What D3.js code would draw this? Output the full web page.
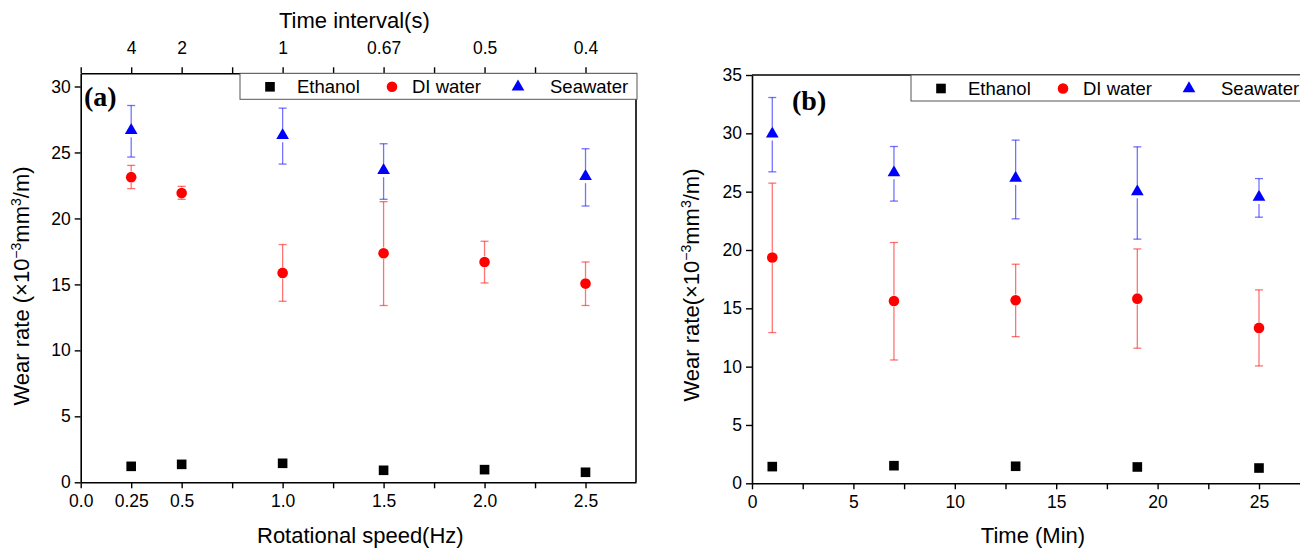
<html>
<head><meta charset="utf-8"></head>
<style>
  html, body { margin: 0; background: #fff; }
  svg { display: block; }
  text { font-family: "Liberation Sans", Arial, sans-serif; fill: #000; }
  .panel-tag { font-family: "Liberation Serif", "Times New Roman", serif; font-weight: bold; }
</style>
<body>
<svg width="1300" height="549"></svg>
<script src="https://cdnjs.cloudflare.com/ajax/libs/d3/7.8.5/d3.min.js"></script>
<script>
  // ---- panel (a): wear rate vs rotational speed ----
  const speedA      = [0.25, 0.5, 1.0, 1.5, 2.0, 2.5];
  const ethanolA    = [1.21, 1.36, 1.44, 0.91, 0.96, 0.76];
  const diA         = [23.13, 21.92, 15.87, 17.36, 16.70, 15.06];
  const diALow      = [22.26, 21.45, 13.72, 13.40, 15.11, 13.40];
  const diAHigh     = [24.02, 22.43, 18.02, 21.27, 18.27, 16.70];
  const seaSpeedA   = [0.25, 1.0, 1.5, 2.5];
  const seaA        = [26.67, 26.29, 23.64, 23.19];
  const seaALow     = [24.65, 24.12, 21.45, 20.94];
  const seaAHigh    = [28.56, 28.36, 25.66, 25.28];
  const bottomTicksA  = [0, 0.25, 0.5, 0.75, 1.0, 1.25, 1.5, 1.75, 2.0, 2.25, 2.5];
  const bottomLabelsA = {0: "0.0", 0.25: "0.25", 0.5: "0.5", 1: "1.0", 1.5: "1.5", 2: "2.0", 2.5: "2.5"};
  const topLabelsA    = {0.25: "4", 0.5: "2", 1: "1", 1.5: "0.67", 2: "0.5", 2.5: "0.4"};
  const yTicksA       = [0, 5, 10, 15, 20, 25, 30];

  // ---- panel (b): wear rate vs time ----
  const timeB       = [1, 7, 13, 19, 25];
  const ethanolB    = [1.43, 1.51, 1.46, 1.40, 1.31];
  const diB         = [19.35, 15.63, 15.69, 15.83, 13.32];
  const diBLow      = [12.92, 10.57, 12.57, 11.58, 10.06];
  const diBHigh     = [25.73, 20.64, 18.78, 20.09, 16.58];
  const seaB        = [29.96, 26.64, 26.16, 25.01, 24.53];
  const seaBLow     = [26.70, 24.19, 22.67, 20.93, 22.81];
  const seaBHigh    = [33.07, 28.87, 29.42, 28.84, 26.12];
  const bottomTicksB = [0, 2.5, 5, 7.5, 10, 12.5, 15, 17.5, 20, 22.5, 25, 27.5];
  const yTicksB      = [0, 5, 10, 15, 20, 25, 30, 35];

  const legendNames = ["Ethanol", "DI water", "Seawater"];

  const svg = d3.select("svg");

  function styleAxis(g) {
    g.selectAll("path.domain").attr("stroke", "#000").attr("stroke-width", 1.6);
    g.selectAll(".tick line").attr("stroke", "#000").attr("stroke-width", 1.4);
    g.selectAll(".tick text").style("font-family", "Liberation Sans, Arial, sans-serif")
      .style("font-size", "17.5px").attr("fill", "#000");
  }

  function drawMarker(g, type, cx, cy, color) {
    if (type === "square") {
      g.append("rect").attr("x", cx - 4.8).attr("y", cy - 4.8)
        .attr("width", 9.6).attr("height", 9.6).attr("fill", color);
    } else if (type === "circle") {
      g.append("circle").attr("cx", cx).attr("cy", cy).attr("r", 5.3).attr("fill", color);
    } else {
      g.append("path").attr("d", d3.symbol(d3.symbolTriangle, 70)())
        .attr("transform", `translate(${cx},${cy})`).attr("fill", color);
    }
  }

  function drawSeries(g, x, y, xs, vals, lows, highs, type, color) {
    const gap = type === "triangle" ? 6.8 : 5.8;
    xs.forEach((xv, i) => {
      const cx = x(xv), cy = y(vals[i]);
      if (lows) {
        const yl = y(lows[i]), yh = y(highs[i]);
        const eb = g.append("g").attr("stroke", color).attr("stroke-opacity", 0.55).attr("stroke-width", 1.3);
        if (cy - gap > yh) eb.append("line").attr("x1", cx).attr("x2", cx).attr("y1", yh).attr("y2", cy - gap);
        if (cy + gap < yl) eb.append("line").attr("x1", cx).attr("x2", cx).attr("y1", cy + gap).attr("y2", yl);
        eb.append("line").attr("x1", cx - 4).attr("x2", cx + 4).attr("y1", yh).attr("y2", yh);
        eb.append("line").attr("x1", cx - 4).attr("x2", cx + 4).attr("y1", yl).attr("y2", yl);
      }
      drawMarker(g, type, cx, cy, color);
    });
  }

  function drawLegend(x0, y0) {
    const g = svg.append("g");
    g.append("rect").attr("x", x0).attr("y", y0).attr("width", 397).attr("height", 26)
      .attr("fill", "#fff").attr("stroke", "#555").attr("stroke-width", 1);
    const markX = [30, 152, 278];
    const textX = [57, 172, 310];
    const types = ["square", "circle", "triangle"];
    const colors = ["#000", "#f00", "#00f"];
    legendNames.forEach((name, i) => {
      drawMarker(g, types[i], x0 + markX[i], y0 + 13.5, colors[i]);
      g.append("text").attr("x", x0 + textX[i]).attr("y", y0 + 20)
        .style("font-size", "18.5px").text(name);
    });
  }

  function yTitle(x, y, gapBefore) {
    const t = svg.append("text")
      .attr("transform", `translate(${x},${y}) rotate(-90)`)
      .attr("text-anchor", "middle").style("font-size", "22px");
    t.append("tspan").text("Wear rate" + (gapBefore ? " " : "") + "(×10");
    t.append("tspan").attr("baseline-shift", "super").style("font-size", "14px").text("−3");
    t.append("tspan").text("mm");
    t.append("tspan").attr("baseline-shift", "super").style("font-size", "14px").text("3");
    t.append("tspan").text("/m)");
  }

  // ===== panel (a) =====
  const xA = d3.scaleLinear().domain([0, 2.75]).range([80.7, 636]);
  const yA = d3.scaleLinear().domain([0, 31]).range([482.3, 73.3]);

  svg.append("g").attr("transform", `translate(0,${yA(0)})`)
    .call(d3.axisBottom(xA).tickValues(bottomTicksA).tickSize(6).tickSizeOuter(0)
      .tickFormat(d => bottomLabelsA[d] || "").tickPadding(6))
    .call(styleAxis);
  svg.append("g").attr("transform", `translate(0,${yA(31)})`)
    .call(d3.axisTop(xA).tickValues(bottomTicksA).tickSize(6).tickSizeOuter(0)
      .tickFormat(d => topLabelsA[d] || "").tickPadding(13))
    .call(styleAxis);
  svg.append("g").attr("transform", `translate(${xA(0)},0)`)
    .call(d3.axisLeft(yA).tickValues(yTicksA).tickSize(6).tickSizeOuter(0).tickPadding(4))
    .call(styleAxis);
  svg.append("line").attr("x1", xA(2.75)).attr("x2", xA(2.75)).attr("y1", yA(31)).attr("y2", yA(0))
    .attr("stroke", "#000").attr("stroke-width", 1.6);

  const gA = svg.append("g");
  drawSeries(gA, xA, yA, seaSpeedA, seaA, seaALow, seaAHigh, "triangle", "#00f");
  drawSeries(gA, xA, yA, speedA, diA, diALow, diAHigh, "circle", "#f00");
  drawSeries(gA, xA, yA, speedA, ethanolA, null, null, "square", "#000");
  drawLegend(240, yA(31));

  svg.append("text").attr("class", "panel-tag").attr("x", 84).attr("y", 106)
    .style("font-size", "28px").text("(a)");
  svg.append("text").attr("x", (xA(0) + xA(2.75)) / 2 + 2).attr("y", 543).attr("text-anchor", "middle")
    .style("font-size", "22px").text("Rotational speed(Hz)");
  svg.append("text").attr("x", (xA(0) + xA(2.75)) / 2 - 4).attr("y", 28).attr("text-anchor", "middle")
    .style("font-size", "22px").text("Time interval(s)");
  yTitle(29, 286, true);

  // ===== panel (b) =====
  const xB = d3.scaleLinear().domain([0, 27.5]).range([752, 1309.7]);
  const yB = d3.scaleLinear().domain([0, 35]).range([483.3, 75]);

  svg.append("g").attr("transform", `translate(0,${yB(0)})`)
    .call(d3.axisBottom(xB).tickValues(bottomTicksB).tickSize(6).tickSizeOuter(0)
      .tickFormat(d => d % 5 === 0 ? d : "").tickPadding(6))
    .call(styleAxis);
  svg.append("g").attr("transform", `translate(${xB(0)},0)`)
    .call(d3.axisLeft(yB).tickValues(yTicksB).tickSize(6).tickSizeOuter(0).tickPadding(4))
    .call(styleAxis);
  svg.append("line").attr("x1", xB(0)).attr("x2", xB(27.5)).attr("y1", yB(35)).attr("y2", yB(35))
    .attr("stroke", "#000").attr("stroke-width", 1.6);

  const gB = svg.append("g");
  drawSeries(gB, xB, yB, timeB, seaB, seaBLow, seaBHigh, "triangle", "#00f");
  drawSeries(gB, xB, yB, timeB, diB, diBLow, diBHigh, "circle", "#f00");
  drawSeries(gB, xB, yB, timeB, ethanolB, null, null, "square", "#000");
  drawLegend(911, yB(35));

  svg.append("text").attr("class", "panel-tag").attr("x", 792).attr("y", 110)
    .style("font-size", "28px").text("(b)");
  svg.append("text").attr("x", 1033).attr("y", 543).attr("text-anchor", "middle")
    .style("font-size", "22px").text("Time (Min)");
  yTitle(699, 285, false);
</script>
</body>
</html>
